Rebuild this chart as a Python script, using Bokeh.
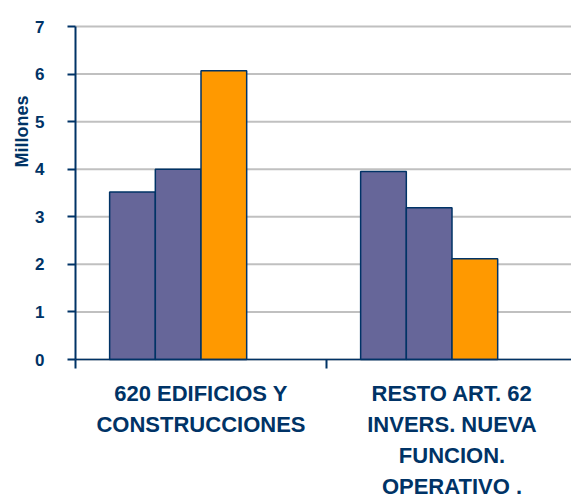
from bokeh.plotting import figure
from bokeh.models import Range1d, FixedTicker, Label, ColumnDataSource
from bokeh.embed import file_html
from bokeh.resources import INLINE

categories = ["620 EDIFICIOS Y\nCONSTRUCCIONES", "RESTO ART. 62\nINVERS. NUEVA\nFUNCION.\nOPERATIVO ."]
series_a = [3.52, 3.95]
series_b = [4.00, 3.19]
series_c = [6.07, 2.12]
series_colors = ["#666699", "#666699", "#FF9900"]
y_ticks = [0, 1, 2, 3, 4, 5, 6, 7]
y_label = "Millones"

NAVY = "#003366"
FONT = "'Liberation Sans', Arial, sans-serif"

# layout (pixels)
W, H = 571, 500
axis_x_px, axis_y_px, top_px = 75, 359, 26
cat_px = 251
y_px = (axis_y_px - top_px) / 7

n_slots = 4
gap = 0.272
bar_w = (1 - gap) / n_slots

x_end = (W - axis_x_px) / cat_px
p = figure(width=W, height=H, output_backend="svg", toolbar_location=None,
           x_range=Range1d(-axis_x_px / cat_px, x_end),
           y_range=Range1d(-(H - axis_y_px) / y_px, 7 + top_px / y_px))
p.min_border = 0
p.outline_line_color = None
p.background_fill_color = "white"
p.border_fill_color = "white"
p.xgrid.visible = False
p.ygrid.visible = False

# horizontal gridlines from the tick values
p.segment(x0=[0] * len(y_ticks), x1=[x_end] * len(y_ticks), y0=y_ticks, y1=y_ticks,
          line_color="#C0C0C0", line_width=2)

for j, vals in enumerate([series_a, series_b, series_c]):
    xs = [i + gap / 2 + bar_w / 2 + j * bar_w for i in range(len(vals))]
    src = ColumnDataSource(dict(x=xs, top=vals))
    p.vbar(x="x", top="top", bottom=0, width=bar_w, source=src,
           fill_color=series_colors[j], line_color=NAVY, line_width=1.5)

# y axis
p.yaxis.fixed_location = 0
p.yaxis.bounds = (0, 7)
p.yaxis.ticker = FixedTicker(ticks=y_ticks)
p.yaxis.axis_line_color = NAVY
p.yaxis.axis_line_width = 2
p.yaxis.major_tick_line_color = NAVY
p.yaxis.major_tick_line_width = 2
p.yaxis.major_tick_out = 8
p.yaxis.major_tick_in = 0
p.yaxis.minor_tick_line_color = None
p.yaxis.major_label_standoff = 23
p.yaxis.major_label_text_font = FONT
p.yaxis.major_label_text_font_style = "bold"
p.yaxis.major_label_text_font_size = "17px"
p.yaxis.major_label_text_color = NAVY

# x axis
p.xaxis.fixed_location = 0
p.xaxis.bounds = (0, x_end)
p.xaxis.ticker = FixedTicker(ticks=[i + 0.5 for i in range(len(categories))],
                             minor_ticks=list(range(len(categories) + 1)))
p.xaxis.major_label_overrides = {i + 0.5: c for i, c in enumerate(categories)}
p.xaxis.axis_line_color = NAVY
p.xaxis.axis_line_width = 1.5
p.xaxis.major_tick_line_color = None
p.xaxis.minor_tick_line_color = NAVY
p.xaxis.minor_tick_line_width = 2
p.xaxis.minor_tick_out = 9
p.xaxis.minor_tick_in = 0
p.xaxis.major_tick_out = 0
p.xaxis.major_tick_in = 0
p.xaxis.major_label_standoff = 12
p.xaxis.major_label_text_font = FONT
p.xaxis.major_label_text_font_style = "bold"
p.xaxis.major_label_text_font_size = "22px"
p.xaxis.major_label_text_color = NAVY
p.xaxis.major_label_text_line_height = 1.24

p.add_layout(Label(x=(21 - axis_x_px) / cat_px, y=(axis_y_px - 131) / y_px, text=y_label,
                   angle=90, angle_units="deg", text_align="center", text_baseline="middle",
                   text_font=FONT, text_font_style="bold", text_font_size="18px",
                   text_color=NAVY))

open("out.html", "w").write(file_html(p, INLINE))
